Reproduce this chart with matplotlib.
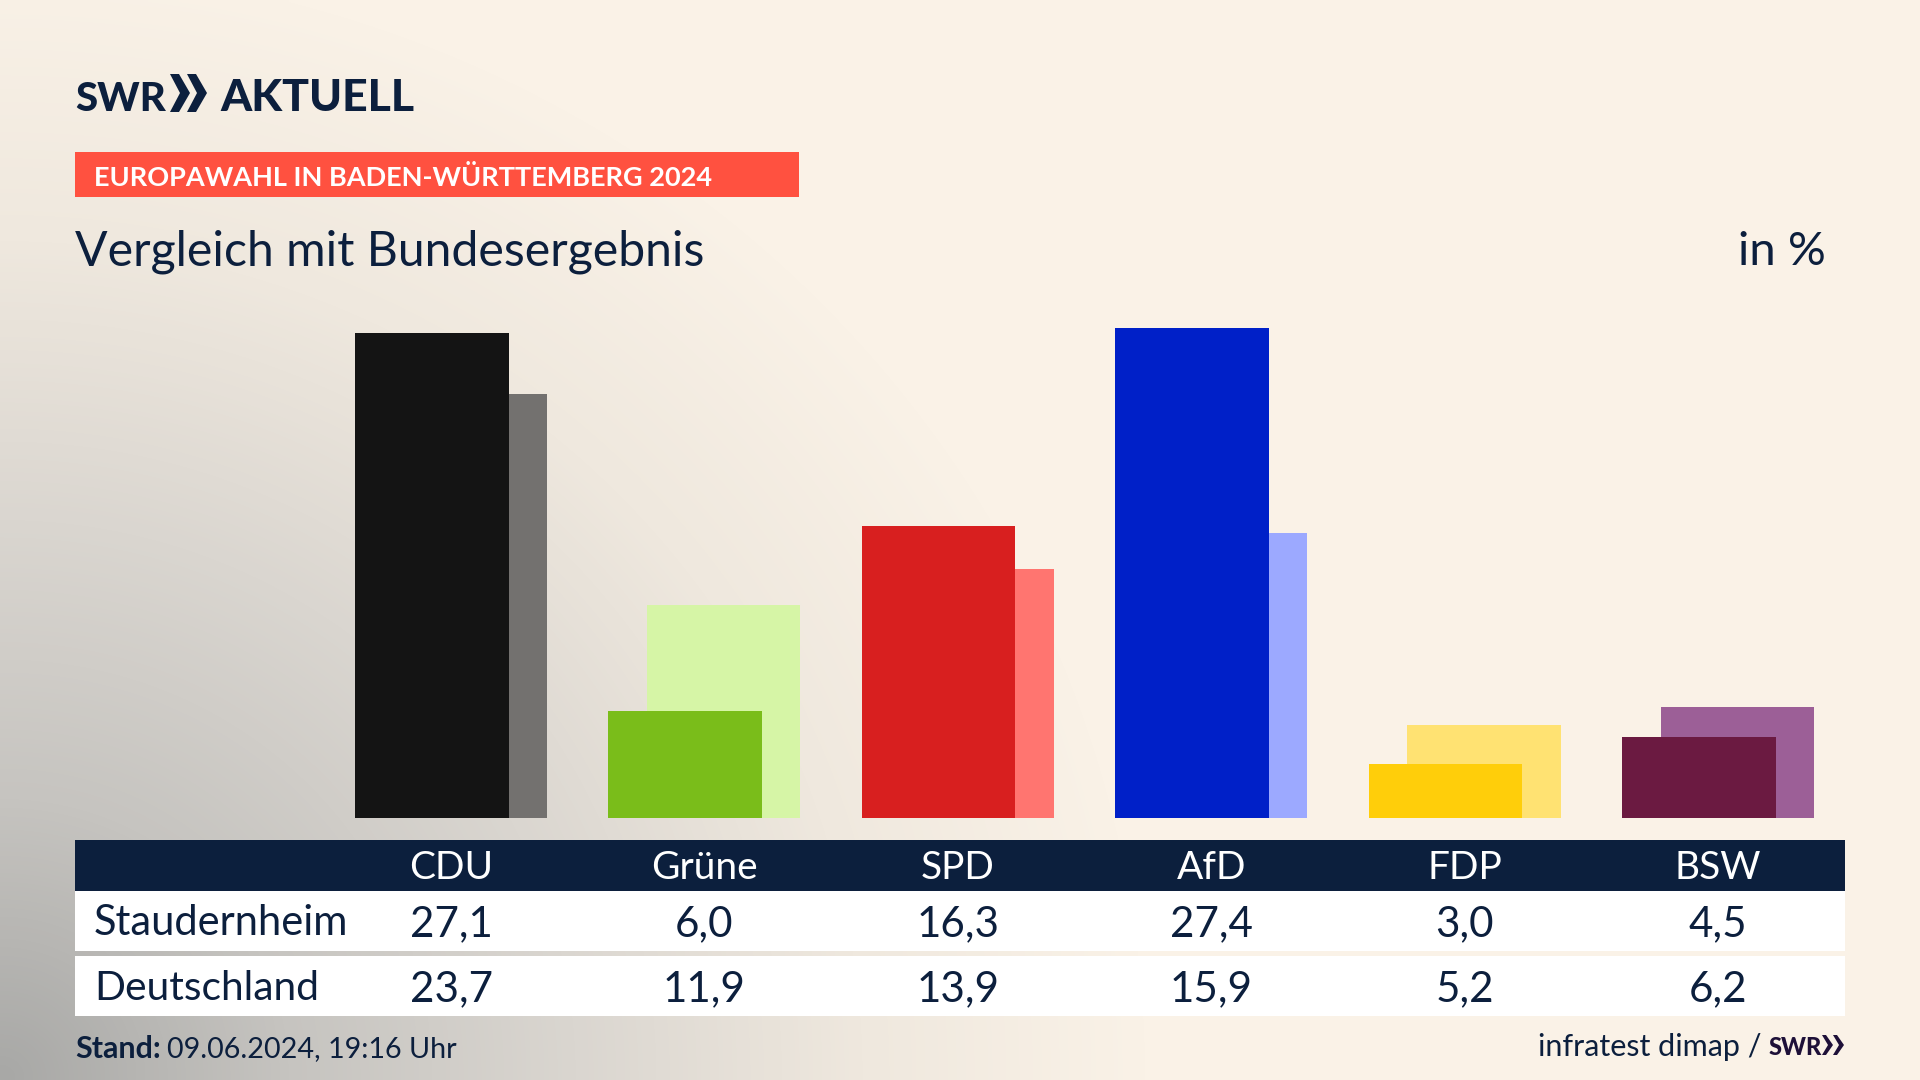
import numpy as np
import matplotlib
matplotlib.use('Agg')
import matplotlib.pyplot as plt
from matplotlib.colors import LinearSegmentedColormap
from matplotlib.patches import Rectangle, Polygon

parties = ['CDU', 'Grüne', 'SPD', 'AfD', 'FDP', 'BSW']
local_values = [27.1, 6.0, 16.3, 27.4, 3.0, 4.5]
national_values = [23.7, 11.9, 13.9, 15.9, 5.2, 6.2]
local_name = 'Staudernheim'
national_name = 'Deutschland'
local_colors = ['#141414', '#7ABD1A', '#D81F1F', '#0020C8', '#FFCE0A', '#6B1A41']
national_colors = ['#73716F', '#D6F5A6', '#FF7570', '#9CA9FF', '#FFE272', '#9C5F97']

NAVY = '#0C1F3D'
plt.rcParams['font.family'] = ['Lato', 'DejaVu Sans']

fig = plt.figure(figsize=(19.2, 10.8), dpi=100)


def to_fig(x0, y0, x1, y1):
    """Pixelrechteck (oben links als Ursprung) in Figure-Koordinaten"""
    return [x0 / 1920, 1 - y1 / 1080, (x1 - x0) / 1920, (y1 - y0) / 1080]


# Hintergrund: grauer Verlauf aus der Ecke unten links
bg = fig.add_axes([0, 0, 1, 1])
xx, yy = np.meshgrid(np.linspace(0, 1920, 480), np.linspace(0, 1080, 270))
dist = np.sqrt((xx / 1150) ** 2 + ((1080 - yy) / 1120) ** 2)
cmap = LinearSegmentedColormap.from_list('bg', [
    (0.0, '#A8A8A6'), (0.25, '#C6C4C0'), (0.5, '#DAD6D0'),
    (0.75, '#EFE8DE'), (1.0, '#FAF2E7')])
bg.imshow(np.clip(dist, 0, 1), cmap=cmap, vmin=0, vmax=1, extent=[0, 1920, 1080, 0],
          aspect='auto', interpolation='bilinear')
bg.set_xlim(0, 1920)
bg.set_ylim(1080, 0)
bg.axis('off')

# Balken
ax = fig.add_axes(to_fig(75, 299, 1845, 818))
ax.patch.set_alpha(0)
x = np.arange(len(parties))
ax.bar(x + 0.076, national_values, 0.606, color=national_colors, linewidth=0)
ax.bar(x - 0.076, local_values, 0.606, color=local_colors, linewidth=0)
ax.set_xlim(-1.484, 5.501)
ax.set_ylim(0, 29)
ax.axis('off')

# Kopf
bg.text(75, 111, 'SWR', fontsize=29, fontweight='black', color=NAVY, va='baseline', ha='left')
for cx in (170, 187):
    bg.add_patch(Polygon([(cx, 74), (cx + 9, 74), (cx + 20, 93), (cx + 9, 112), (cx, 112), (cx + 10, 93)],
                         closed=True, color=NAVY, lw=0))
bg.text(220, 111, 'AKTUELL', fontsize=32, fontweight='black', color=NAVY, va='baseline', ha='left')

bg.add_patch(Rectangle((75, 152), 724, 45, color='#FF5140', lw=0))
bg.text(94, 177, 'EUROPAWAHL IN BADEN-WÜRTTEMBERG 2024', fontsize=19.5, fontweight='bold',
        color='white', va='center', ha='left')
bg.text(75, 265, 'Vergleich mit Bundesergebnis', fontsize=34.7, color=NAVY, va='baseline', ha='left')
bg.text(1826, 265, 'in %', fontsize=34, color=NAVY, va='baseline', ha='right')

# Tabelle
bg.add_patch(Rectangle((75, 840), 1770, 51, color=NAVY, lw=0))
bg.add_patch(Rectangle((75, 891), 1770, 60, color='white', lw=0))
bg.add_patch(Rectangle((75, 956), 1770, 60, color='white', lw=0))
col_x = [451 + i * 253.4 for i in range(len(parties))]
for cx, party, loc, nat in zip(col_x, parties, local_values, national_values):
    bg.text(cx, 868, party, fontsize=28, color='white', ha='center', va='center')
    bg.text(cx, 924, f'{loc:.1f}'.replace('.', ','), fontsize=30.3, color=NAVY, ha='center', va='center')
    bg.text(cx, 989, f'{nat:.1f}'.replace('.', ','), fontsize=30.3, color=NAVY, ha='center', va='center')
bg.text(94, 923, local_name, fontsize=30, color=NAVY, ha='left', va='center')
bg.text(94, 988, national_name, fontsize=29.3, color=NAVY, ha='left', va='center')

# Fuss
bg.text(75, 1049, 'Stand:', fontsize=22, fontweight='bold', color=NAVY, ha='left', va='center')
bg.text(167, 1049, '09.06.2024, 19:16 Uhr', fontsize=20.7, color=NAVY, ha='left', va='center')
bg.text(1762, 1047, 'infratest dimap /', fontsize=22, color=NAVY, ha='right', va='center')
bg.text(1769, 1055, 'SWR', fontsize=17, fontweight='black', color='#1E1038', ha='left', va='baseline')
for cx in (1822, 1833):
    bg.add_patch(Polygon([(cx, 1035), (cx + 4, 1035), (cx + 11, 1045), (cx + 4, 1055), (cx, 1055), (cx + 6, 1045)],
                         closed=True, color='#1E1038', lw=0))

fig.savefig('out.png', dpi=100)
